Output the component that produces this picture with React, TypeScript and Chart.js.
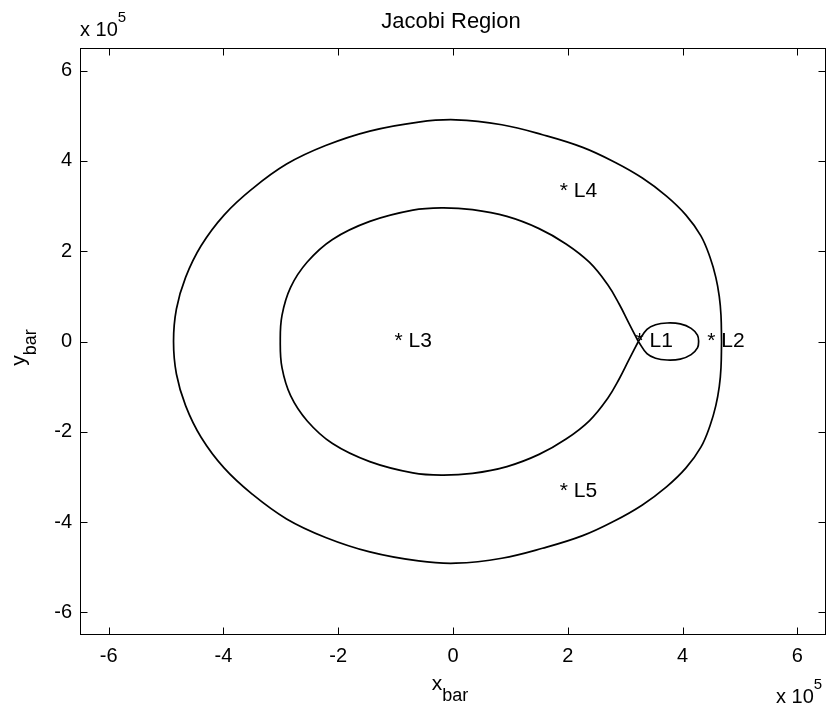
import React, { useEffect, useRef } from "react";
import { Chart, registerables } from "chart.js";

Chart.register(...registerables);

// Axis limits and ticks (units of 10^5)
const xLimits = [-6.5, 6.5];
const yLimits = [-6.5, 6.5];
const tickValues = [-6, -4, -2, 0, 2, 4, 6];
const tickLabels = ["-6", "-4", "-2", "0", "2", "4", "6"];

// Outer zero-velocity contour, traced counter-clockwise from the right
const outerX = [
  4.68, 4.67, 4.64, 4.58, 4.48, 4.32, 4.06, 3.72, 3.3, 2.82, 2.26, 1.56, 0.85, 0.05,
  -0.6, -1.45, -2.22, -2.9, -3.5, -3.99, -4.39, -4.66, -4.82, -4.87,
  -4.82, -4.66, -4.39, -3.99, -3.5, -2.9, -2.22, -1.45, -0.6, 0.05,
  0.85, 1.56, 2.26, 2.82, 3.3, 3.72, 4.06, 4.32, 4.48, 4.58, 4.64, 4.67, 4.68,
];
const outerY = [
  0, 0.58, 1.0, 1.42, 1.86, 2.34, 2.8, 3.22, 3.62, 3.97, 4.3, 4.58, 4.8, 4.91,
  4.86, 4.66, 4.34, 3.93, 3.38, 2.8, 2.12, 1.42, 0.72, 0,
  -0.72, -1.42, -2.12, -2.8, -3.38, -3.93, -4.34, -4.66, -4.86, -4.91,
  -4.8, -4.58, -4.3, -3.97, -3.62, -3.22, -2.8, -2.34, -1.86, -1.42, -1.0, -0.58, 0,
];

// Inner contour around the primary, pinched at L1
const innerX = [
  3.23, 3.06, 2.9, 2.7, 2.38, 1.97, 1.5, 0.94, 0.34, -0.2, -0.7, -1.45, -2.1, -2.54, -2.83, -2.98, -3.01,
  -2.98, -2.83, -2.54, -2.1, -1.45, -0.7, -0.2, 0.34, 0.94, 1.5, 1.97, 2.38, 2.7, 2.9, 3.06, 3.23,
];
const innerY = [
  0, 0.42, 0.82, 1.25, 1.75, 2.16, 2.5, 2.77, 2.92, 2.96, 2.91, 2.66, 2.26, 1.76, 1.2, 0.58, 0,
  -0.58, -1.2, -1.76, -2.26, -2.66, -2.91, -2.96, -2.92, -2.77, -2.5, -2.16, -1.75, -1.25, -0.82, -0.42, 0,
];

// Small lobe around the secondary, between L1 and L2
const lobeX = [3.23, 3.38, 3.53, 3.73, 3.96, 4.15, 4.26, 4.28, 4.26, 4.15, 3.96, 3.73, 3.53, 3.38, 3.23];
const lobeY = [0, 0.27, 0.37, 0.41, 0.39, 0.29, 0.14, 0, -0.14, -0.29, -0.39, -0.41, -0.37, -0.27, 0];

// Lagrange point labels
const lagrangeNames = ["L1", "L2", "L3", "L4", "L5"];
const lagrangeX = [3.18, 4.43, -1.02, 1.86, 1.86];
const lagrangeY = [0, 0, 0, 3.32, -3.32];

const FONT = '"Liberation Sans", Arial, Helvetica, sans-serif';
const INK = "#000000";

const toPoints = (xs: number[], ys: number[]) => xs.map((x, i) => ({ x, y: ys[i] }));

// Draws text with a sub- or superscript part, baseline at (x, y)
function drawScripted(
  ctx: CanvasRenderingContext2D,
  x: number,
  y: number,
  main: string,
  mainSize: number,
  script: string,
  scriptSize: number,
  dy: number,
  align: "left" | "center"
) {
  ctx.textAlign = "left";
  ctx.textBaseline = "alphabetic";
  ctx.font = `${mainSize}px ${FONT}`;
  const wMain = ctx.measureText(main).width;
  ctx.font = `${scriptSize}px ${FONT}`;
  const wScript = ctx.measureText(script).width;
  const x0 = align === "center" ? x - (wMain + wScript) / 2 : x;
  ctx.font = `${mainSize}px ${FONT}`;
  ctx.fillText(main, x0, y);
  ctx.font = `${scriptSize}px ${FONT}`;
  ctx.fillText(script, x0 + wMain, y + dy);
}

const axesDecor = {
  id: "axesDecor",
  afterDatasetsDraw(chart: any) {
    const { ctx, chartArea: a } = chart;
    const xs = chart.scales.x;
    const ys = chart.scales.y;
    ctx.save();
    ctx.strokeStyle = INK;
    ctx.fillStyle = INK;
    ctx.lineWidth = 1;

    // Box around the axes
    const L = Math.round(a.left) + 0.5;
    const R = Math.round(a.right) - 0.5;
    const T = Math.round(a.top) + 0.5;
    const B = Math.round(a.bottom) - 0.5;
    ctx.strokeRect(L, T, R - L, B - T);

    // Inward tick marks on all four sides
    const tickLen = 7;
    ctx.beginPath();
    tickValues.forEach((v) => {
      const px = Math.round(xs.getPixelForValue(v)) + 0.5;
      ctx.moveTo(px, B);
      ctx.lineTo(px, B - tickLen);
      ctx.moveTo(px, T);
      ctx.lineTo(px, T + tickLen);
      const py = Math.round(ys.getPixelForValue(v)) + 0.5;
      ctx.moveTo(L, py);
      ctx.lineTo(L + tickLen, py);
      ctx.moveTo(R, py);
      ctx.lineTo(R - tickLen, py);
    });
    ctx.stroke();

    // Tick labels
    ctx.font = `20px ${FONT}`;
    ctx.textAlign = "center";
    ctx.textBaseline = "alphabetic";
    tickValues.forEach((v, i) => ctx.fillText(tickLabels[i], xs.getPixelForValue(v), a.bottom + 27));
    ctx.textAlign = "right";
    ctx.textBaseline = "middle";
    tickValues.forEach((v, i) => ctx.fillText(tickLabels[i], a.left - 8, ys.getPixelForValue(v)));

    // Exponent markers
    drawScripted(ctx, a.left, 36, "x 10", 20, "5", 15, -14, "left");
    drawScripted(ctx, a.right - 50, 703, "x 10", 20, "5", 15, -14, "left");

    // Title
    ctx.font = `22px ${FONT}`;
    ctx.textAlign = "center";
    ctx.textBaseline = "middle";
    ctx.fillText("Jacobi Region", (a.left + a.right) / 2 - 2, 22);

    // Axis labels
    drawScripted(ctx, (a.left + a.right) / 2 - 3, 690, "x", 21, "bar", 18, 11, "center");
    ctx.save();
    ctx.translate(25, (a.top + a.bottom) / 2 + 6);
    ctx.rotate(-Math.PI / 2);
    drawScripted(ctx, 0, 0, "y", 21, "bar", 18, 11, "center");
    ctx.restore();

    // Lagrange point labels
    ctx.font = `21px ${FONT}`;
    ctx.textAlign = "left";
    ctx.textBaseline = "middle";
    lagrangeNames.forEach((name, i) => {
      ctx.fillText(`* ${name}`, xs.getPixelForValue(lagrangeX[i]), ys.getPixelForValue(lagrangeY[i]));
    });

    ctx.restore();
  },
};

export default function App() {
  const canvasRef = useRef<HTMLCanvasElement | null>(null);

  useEffect(() => {
    document.body.style.margin = "0";
    const canvas = canvasRef.current;
    if (!canvas) return;
    const curve = (xs: number[], ys: number[]) => ({
      data: toPoints(xs, ys),
      showLine: true,
      borderColor: INK,
      borderWidth: 1.7,
      pointRadius: 0,
      tension: 0.4,
      fill: false,
    });
    const chart = new Chart(canvas, {
      type: "scatter",
      data: {
        datasets: [curve(outerX, outerY), curve(innerX, innerY), curve(lobeX, lobeY)],
      },
      options: {
        responsive: false,
        animation: false,
        devicePixelRatio: 1,
        events: [],
        layout: { padding: { left: 80, top: 48, right: 4, bottom: 76 } },
        plugins: {
          legend: { display: false },
          title: { display: false },
          tooltip: { enabled: false },
        },
        scales: {
          x: { type: "linear", min: xLimits[0], max: xLimits[1], display: false },
          y: { type: "linear", min: yLimits[0], max: yLimits[1], display: false },
        },
      },
      plugins: [axesDecor],
    } as any);
    return () => chart.destroy();
  }, []);

  return (
    <div style={{ width: 830, height: 711, background: "#ffffff" }}>
      <canvas ref={canvasRef} width={830} height={711} style={{ display: "block" }} />
    </div>
  );
}
